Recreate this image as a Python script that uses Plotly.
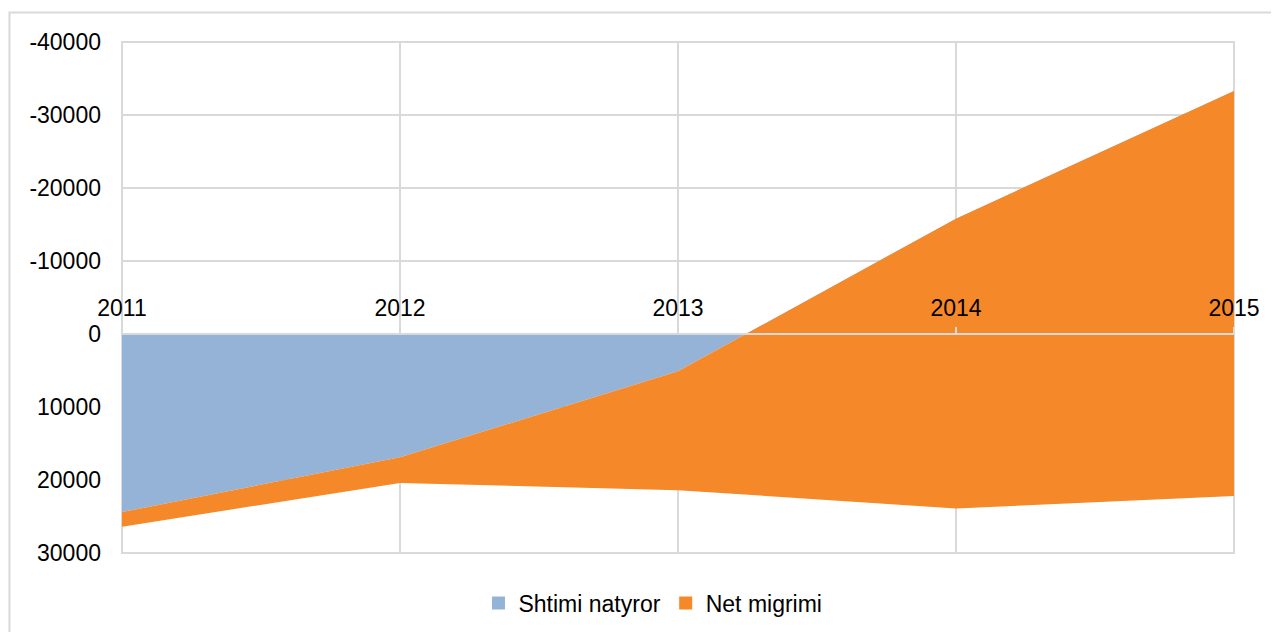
import plotly.graph_objects as go

# data (y axis is reversed: negative values go up)
years = ['2011', '2012', '2013', '2014', '2015']
shtimi_natyror = [24400, 16900, 5100, -15800, -33300]
net_migrimi = [2000, 3500, 16300, 39700, 55500]

y_ticks = [-40000, -30000, -20000, -10000, 0, 10000, 20000, 30000]
y_ticktext = ['-40000', '-30000', '-20000', '-10000', '0', '10000', '20000', '30000']

blue = '#95B3D7'
orange = '#F58829'
grid = '#D9D9D9'
font_family = 'Liberation Sans, Arial, sans-serif'

fig = go.Figure()

# stacked areas
fig.add_trace(go.Scatter(
    x=years, y=shtimi_natyror, name='Shtimi natyror',
    stackgroup='one', mode='lines', line=dict(width=0, color=blue),
    fillcolor=blue, showlegend=False))
fig.add_trace(go.Scatter(
    x=years, y=net_migrimi, name='Net migrimi',
    stackgroup='one', mode='lines', line=dict(width=0, color=orange),
    fillcolor=orange, showlegend=False))

# legend entries with square keys
for name, col in [('Shtimi natyror', blue), ('Net migrimi', orange)]:
    fig.add_trace(go.Scatter(
        x=[None], y=[None], mode='markers', name=name,
        marker=dict(symbol='square', size=13, color=col)))

# the page adds an 8px body margin, so the figure is 8px smaller
fig.update_layout(
    width=1271,
    height=624,
    margin=dict(l=114, r=45, t=34, b=79, autoexpand=False),
    paper_bgcolor='white',
    plot_bgcolor='white',
    font=dict(family=font_family, size=23, color='#000000'),
    showlegend=True,
    legend=dict(
        orientation='h',
        x=0.4775, xanchor='center',
        y=-0.098, yanchor='middle',
        traceorder='normal',
        font=dict(size=23),
        itemwidth=30,
    ),
    xaxis=dict(
        type='category',
        range=[0, 4],
        anchor='free',
        position=3 / 7,
        side='top',
        showline=True,
        linecolor=grid,
        linewidth=2,
        ticks='outside',
        ticklen=6,
        tickcolor=grid,
        tickwidth=2,
        ticklabelstandoff=2,
        showgrid=True,
        gridcolor=grid,
        gridwidth=2,
        zeroline=False,
    ),
    yaxis=dict(
        range=[30000, -40000],
        tickvals=y_ticks,
        ticktext=y_ticktext,
        showgrid=True,
        gridcolor=grid,
        gridwidth=2,
        zeroline=False,
        showline=False,
        ticks='',
        ticklabelstandoff=20,
    ),
    shapes=[
        # outer chart border
        dict(type='rect', xref='paper', yref='paper',
             x0=-0.1012, x1=1.06, y0=-0.2, y1=1.0577,
             line=dict(color=grid, width=2), fillcolor='rgba(0,0,0,0)',
             layer='below'),
        # plot area edge gridlines, under the areas
        dict(type='rect', xref='paper', yref='paper',
             x0=0, x1=1, y0=0, y1=1,
             line=dict(color=grid, width=2), fillcolor='rgba(0,0,0,0)',
             layer='below'),
    ],
)

fig.write_html('out.html')
